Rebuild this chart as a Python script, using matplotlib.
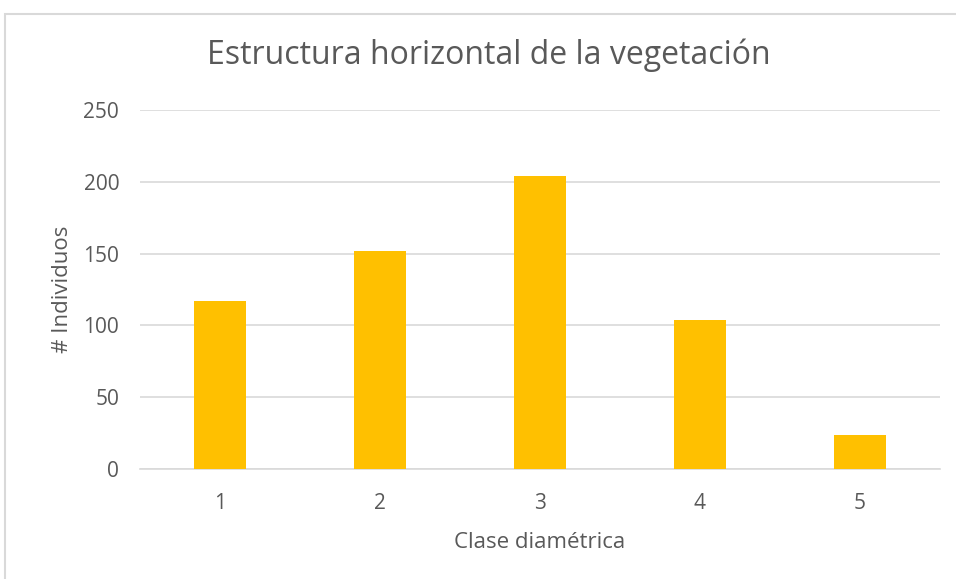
import matplotlib.pyplot as plt
from matplotlib.patches import Rectangle

# Data
clases = ["1", "2", "3", "4", "5"]
individuos = [117, 152, 204, 104, 24]
y_ticks = [0, 50, 100, 150, 200, 250]

plt.rcParams['font.family'] = ['Open Sans', 'DejaVu Sans']

W, H = 956, 579
fig = plt.figure(figsize=(W / 100, H / 100), dpi=100)
ax = fig.add_axes([140 / W, 110 / H, 800 / W, 359 / H])

x = list(range(1, len(clases) + 1))
ax.bar(x, individuos, width=0.32, color="#ffc000", zorder=3)

ax.set_xlim(0.5, 5.5)
ax.set_ylim(0, 250)
ax.set_xticks(x)
ax.set_xticklabels(clases)
ax.set_yticks(y_ticks)

ax.grid(axis="y", color="#d9d9d9", linewidth=1.2, zorder=0)
for side in ["top", "right", "left"]:
    ax.spines[side].set_visible(False)
ax.spines["bottom"].set_color("#d9d9d9")
ax.spines["bottom"].set_linewidth(1.2)
ax.tick_params(axis="both", length=0, labelsize=15, labelcolor="#595959")
ax.tick_params(axis="x", pad=17)
ax.tick_params(axis="y", pad=15)

gray = "#595959"
fig.text(540 / W, 1 - 543 / H, "Clase diamétrica", ha="center", va="center",
         fontsize=16, color=gray)
fig.text(62 / W, 1 - 289 / H, "# Individuos", ha="center", va="center",
         rotation=90, fontsize=16, color=gray)
fig.text(489 / W, 1 - 55 / H, "Estructura horizontal de la vegetación",
         ha="center", va="center", fontsize=23, color=gray)

# chart area border
fig.patches.append(Rectangle((5 / W, -0.1), 1.2, 1.1 - 14 / H, transform=fig.transFigure,
                             fill=False, edgecolor="#d9d9d9", linewidth=1.5))

fig.savefig("out.png", dpi=100)
